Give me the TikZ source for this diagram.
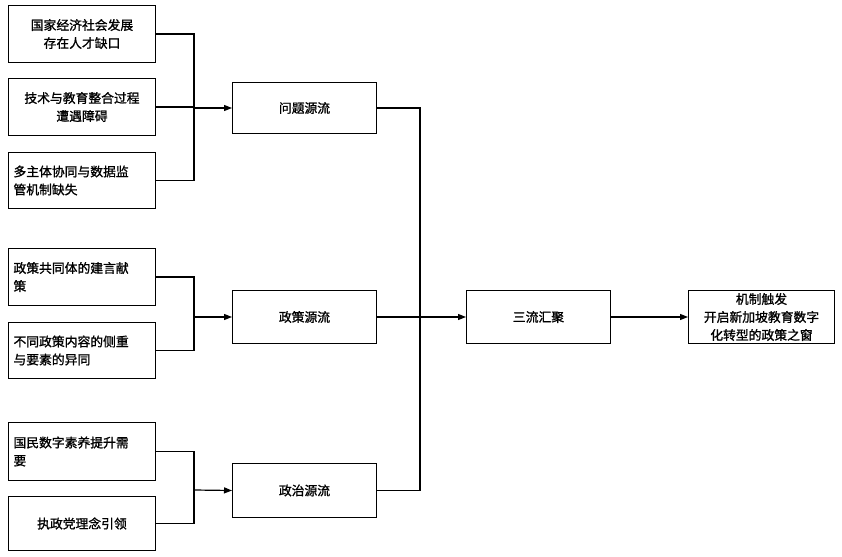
\documentclass[tikz,border=0pt]{standalone}
\usepackage{fontspec}
\newfontfamily\cjk[FakeBold=1.2]{Noto Sans CJK SC}
\usetikzlibrary{arrows.meta}
\begin{document}
\begin{tikzpicture}[x=1pt,y=-1pt,
  box/.style={draw,line width=1pt,anchor=north west,inner sep=0pt,font=\cjk\fontsize{12.8}{18}\selectfont},
  ln/.style={line width=1.2pt},
  ar/.style={line width=1.2pt,-{Triangle[length=8pt,width=6pt]}}]
\useasboundingbox (0,0) rectangle (842,556);
\newcommand\bx[6]{\node[box,minimum width=#3,minimum height=#4,text width=#3-10,align=#5] (#1) at #2 {#6};}
\bx{a1}{(8,5)}{147}{57}{center}{国家经济社会发展\\存在人才缺口}
\bx{a2}{(8,78)}{147}{57}{center}{技术与教育整合过程\\遭遇障碍}
\bx{a3}{(8,152)}{147}{56}{left}{多主体协同与数据监\\管机制缺失}
\bx{a4}{(8,248)}{147}{57}{left}{政策共同体的建言献\\策}
\bx{a5}{(8,322)}{147}{56}{left}{不同政策内容的侧重\\与要素的异同}
\bx{a6}{(8,422)}{147}{58}{left}{国民数字素养提升需\\要}
\bx{a7}{(8,496)}{147}{54}{center}{执政党理念引领}
\bx{m1}{(232,82)}{144}{51}{center}{问题源流}
\bx{m2}{(232,290)}{144}{53}{center}{政策源流}
\bx{m3}{(232,463)}{144}{54}{center}{政治源流}
\bx{s}{(466,290)}{144}{53}{center}{三流汇聚}
\bx{f}{(688,290)}{146}{53}{center}{机制触发\\开启新加坡教育数字\\化转型的政策之窗}
\coordinate (j1) at (194,108);
\coordinate (j2) at (194,317);
\coordinate (j3) at (194,490);
\coordinate (k) at (420,317);
\draw[ln] (a1.east) -| (j1) |- (a3.east);
\draw[ln] (a2.east) -- (a2.east-|j1);
\draw[ar] (j1) -- (m1.west);
\draw[ln] (a4.east) -| (j2) |- (a5.east);
\draw[ar] (j2) -- (m2.west);
\draw[ln] (a6.east) -| (j3) |- (a7.east);
\draw[ar] (j3) -- (m3.west);
\draw[ln] (m1.east) -| (k) |- (m3.east);
\draw[ar] (m2.east) -- (s.west);
\draw[ar] (s.east) -- (f.west);
\end{tikzpicture}
\end{document}
